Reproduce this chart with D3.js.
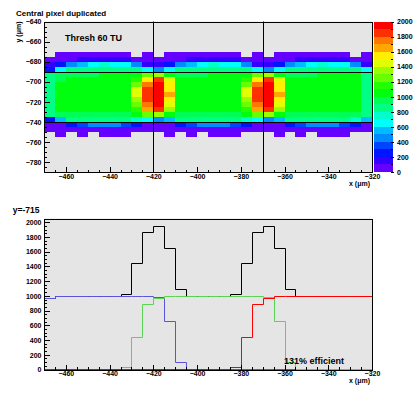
<!DOCTYPE html>
<html>
<head>
<meta charset="utf-8">
<script src="https://cdn.jsdelivr.net/npm/d3@7"></script>
<style>
  body { margin: 0; background: #fff; }
  text { font-family: "Liberation Sans", Arial, sans-serif; font-weight: bold; }
</style>
</head>
<body>
<svg id="chart" width="418" height="393"></svg>
<script>
// ---- data ----
// hit map, 5x5 um bins, x from -470 to -320, rows listed top (y=-670) to bottom
const mapRowTop = [-670, -675, -680, -685, -690, -695, -700, -705, -710, -715, -720, -725, -730, -735, -740, -745, -750];
const mapRows = [
  [0,50,50,50,50,50,50,50,0,50,  0,50,50,50,50,50,50,50,0,50,  0,50,50,50,50,50,50,50,0,50],
  [50,50,50,150,150,150,150,150,50,50,  50,50,50,150,150,150,150,150,50,50,  50,50,50,150,150,150,150,150,50,50],
  [150,250,450,550,650,750,650,650,450,150,  150,250,450,550,650,750,650,650,450,150,  150,250,450,550,650,750,650,650,450,150],
  [250,650,850,850,850,850,850,850,850,650,  450,650,850,850,850,850,850,850,850,650,  450,650,850,850,850,850,850,850,850,650],
  [850,950,950,950,950,1050,1050,1050,1050,1250,  1350,1050,950,950,950,1050,1050,1050,1050,1250,  1350,1050,950,950,950,1050,1050,1050,1050,850],
  [850,950,1050,1050,1050,1050,1050,1050,1150,1550,  1850,1450,1050,1050,1050,1050,1050,1050,1150,1550,  1850,1450,1050,1050,1050,1050,1050,1050,1050,850],
  [850,1050,1050,1050,1050,1050,1050,1050,1250,1750,  1950,1550,1050,1050,1050,1050,1050,1050,1250,1750,  1950,1550,1050,1050,1050,1050,1050,1050,1050,850],
  [850,1050,1050,1050,1050,1050,1050,1050,1450,1850,  1950,1550,1050,1050,1050,1050,1050,1050,1450,1850,  1950,1550,1050,1050,1050,1050,1050,1050,1050,850],
  [850,1050,1050,1050,1050,1050,1050,1050,1450,1850,  1950,1650,1050,1050,1050,1050,1050,1050,1450,1850,  1950,1650,1050,1050,1050,1050,1050,1050,1050,850],
  [850,1050,1050,1050,1050,1050,1050,1050,1350,1850,  1950,1550,1050,1050,1050,1050,1050,1050,1350,1850,  1950,1550,1050,1050,1050,1050,1050,1050,1050,850],
  [850,1050,1050,1050,1050,1050,1050,1050,1250,1750,  1950,1450,1050,1050,1050,1050,1050,1050,1250,1750,  1950,1450,1050,1050,1050,1050,1050,1050,1050,850],
  [850,1050,1050,1050,1050,1050,1050,1050,1150,1650,  1850,1350,1050,1050,1050,1050,1050,1050,1150,1650,  1850,1350,1050,1050,1050,1050,1050,1050,1050,850],
  [850,950,950,950,950,950,950,950,1050,1250,  1350,1050,950,950,950,950,950,950,1050,1250,  1350,1050,950,950,950,950,950,950,950,850],
  [250,550,850,850,850,850,850,850,750,650,  450,550,850,850,850,850,850,850,750,650,  450,550,850,850,850,850,850,850,750,550],
  [50,50,250,350,450,450,450,350,250,50,  50,50,250,350,450,450,450,350,250,50,  50,50,250,350,450,450,450,350,250,50],
  [50,50,50,50,50,50,50,50,50,50,  50,50,50,50,50,50,50,50,50,50,  50,50,50,50,50,50,50,50,50,50],
  [0,50,0,50,0,50,50,50,0,0,  0,50,0,50,0,50,50,50,0,0,  0,50,0,50,0,50,50,50,0,0]
];
const pixelEdgesX = [-420, -370];
const pixelEdgesY = [-690, -740];

// projection at y=-715, same 5 um bins
const sumCounts   = [955,988,988,988,988,988,988,1013,1432,1859, 1936,1635,1081,988,988,988,988,1013,1436,1859, 1936,1635,1081,988,988,988,988,988,988,988];
const blueCounts  = [955,988,988,988,988,988,988,988,988,988, 973,643,95,0,0,0,0,0,0,0, 0,0,0,0,0,0,0,0,0,0];
const greenCounts = [0,0,0,0,0,0,0,22,427,878, 959,990,990,990,990,990,990,990,990,990, 977,649,95,0,0,0,0,0,0,0];
const redCounts   = [0,0,0,0,0,0,0,0,0,0, 0,0,0,0,0,0,0,27,432,878, 959,990,990,990,990,990,990,990,990,990];

const xTicks = [-460, -440, -420, -400, -380, -360, -340, -320];
const yTicksMap = [-780, -760, -740, -720, -700, -680, -660, -640];
const yTicksProj = [0, 200, 400, 600, 800, 1000, 1200, 1400, 1600, 1800, 2000];
const paletteColors = ['#6300ff','#3300ff','#0014ff','#0044ff','#008bff','#00bbff','#00fffc','#00ffcc','#00ff85','#00ff55',
                       '#00ff0e','#22ff00','#69ff00','#99ff00','#e0ff00','#ffee00','#ffa700','#ff7700','#ff3000','#ff0000'];

// ---- layout ----
const svg = d3.select('#chart');
const frameFill = '#e5e5e5';
const binW = 5;

const x = d3.scaleLinear().domain([-470, -320]).range([44, 372]);
const yMap = d3.scaleLinear().domain([-790, -640]).range([172, 21.5]);
const yProj = d3.scaleLinear().domain([0, 2050]).range([369.5, 218.5]);
const zLevels = d3.range(100, 2000, 100);
const color = d3.scaleThreshold().domain(zLevels).range(paletteColors);

function frame(yScale) {
  const [y1, y0] = yScale.range();
  svg.append('rect')
    .attr('x', x.range()[0]).attr('y', y0)
    .attr('width', x.range()[1] - x.range()[0]).attr('height', y1 - y0)
    .attr('fill', frameFill);
}

function axes(yScale, yMajor, yMinorStep, labelY) {
  const [y1, y0] = yScale.range();
  const minorX = d3.range(-470, -319, 5).filter(v => v % 20 !== 0);
  const minorY = d3.range(yScale.domain()[0], yScale.domain()[1] + 0.1, yMinorStep).filter(v => !yMajor.includes(v));

  const gx = svg.append('g').attr('transform', `translate(0,${y1})`);
  gx.call(d3.axisBottom(x).tickValues(xTicks).tickSize(-5).tickPadding(2).tickFormat(d3.format('d')));
  gx.append('g').call(d3.axisBottom(x).tickValues(minorX).tickSize(-2.5).tickFormat(''));

  const gy = svg.append('g').attr('transform', `translate(${x.range()[0]},0)`);
  gy.call(d3.axisLeft(yScale).tickValues(yMajor).tickSize(-6).tickPadding(2.5).tickFormat(d3.format('d')));
  gy.append('g').call(d3.axisLeft(yScale).tickValues(minorY).tickSize(-3).tickFormat(''));

  svg.selectAll('.domain').remove();
  svg.selectAll('.tick line').attr('stroke', '#000').attr('shape-rendering', 'crispEdges');
  svg.selectAll('.tick text').attr('font-size', 7).attr('fill', '#000')
    .attr('font-family', '"Liberation Sans", Arial, sans-serif').attr('font-weight', 'bold');

  svg.append('text').attr('x', 370).attr('y', labelY).attr('text-anchor', 'end')
    .attr('font-size', 7).text('x (\u03bcm)');

  svg.append('rect')
    .attr('x', x.range()[0] + 0.5).attr('y', y0 + 0.5)
    .attr('width', x.range()[1] - x.range()[0]).attr('height', y1 - y0)
    .attr('fill', 'none').attr('stroke', '#000').attr('shape-rendering', 'crispEdges');
}

// ---- top: hit map ----
frame(yMap);

const cells = [];
mapRows.forEach((row, r) => row.forEach((v, c) => {
  if (v > 0) cells.push({ x0: -470 + c * binW, yTop: mapRowTop[r], v });
}));

svg.append('g').selectAll('rect')
  .data(cells)
  .enter().append('rect')
  .attr('x', d => x(d.x0))
  .attr('y', d => yMap(d.yTop))
  .attr('width', d => x(d.x0 + binW) - x(d.x0))
  .attr('height', d => yMap(d.yTop - binW) - yMap(d.yTop))
  .attr('fill', d => color(d.v))
  .attr('shape-rendering', 'crispEdges');

svg.selectAll('.vline')
  .data(pixelEdgesX)
  .enter().append('line')
  .attr('x1', d => Math.round(x(d)) + 0.5).attr('x2', d => Math.round(x(d)) + 0.5)
  .attr('y1', yMap.range()[1]).attr('y2', yMap.range()[0])
  .attr('stroke', '#000');

svg.selectAll('.hline')
  .data(pixelEdgesY)
  .enter().append('line')
  .attr('x1', x.range()[0]).attr('x2', x.range()[1])
  .attr('y1', d => Math.round(yMap(d)) + 0.5).attr('y2', d => Math.round(yMap(d)) + 0.5)
  .attr('stroke', '#000');

axes(yMap, yTicksMap, 5, 186);

// colour palette
const pal = svg.append('g');
pal.selectAll('rect')
  .data(zLevels.concat([2000]).map((t, i) => ({ lo: i * 100, hi: t })))
  .enter().append('rect')
  .attr('x', 374).attr('width', 19)
  .attr('y', d => yMap(-790 + d.hi * 150 / 2000))
  .attr('height', d => yMap(-790 + d.lo * 150 / 2000) - yMap(-790 + d.hi * 150 / 2000))
  .attr('fill', d => color(d.lo + 1))
  .attr('shape-rendering', 'crispEdges');

const zAxisScale = d3.scaleLinear().domain([0, 2000]).range(yMap.range());
const gz = svg.append('g').attr('transform', 'translate(393,0)');
gz.call(d3.axisRight(zAxisScale).tickValues(yTicksProj).tickSize(3).tickPadding(1).tickFormat(d3.format('d')));
gz.append('g').call(d3.axisRight(zAxisScale).tickValues(d3.range(100, 2000, 200)).tickSize(1.5).tickFormat(''));
gz.select('.domain').remove();
gz.selectAll('.tick line').attr('stroke', '#000').attr('transform', 'translate(-2,0)');
gz.selectAll('.tick text').attr('font-size', 7).attr('fill', '#000')
  .attr('font-family', '"Liberation Sans", Arial, sans-serif').attr('font-weight', 'bold');

svg.append('text').attr('x', 16).attr('y', 16).attr('font-size', 8).text('Central pixel duplicated');
svg.append('text').attr('x', 65).attr('y', 40.5).attr('font-size', 9).text('Thresh 60 TU');
svg.append('text').attr('transform', 'translate(20.5,21.5) rotate(-90)')
  .attr('text-anchor', 'end').attr('font-size', 7).text('y (\u03bcm)');

// ---- bottom: projection ----
frame(yProj);

// snap steps to pixel centres so 1px lines stay sharp
const step = d3.line()
  .x(d => Math.round(x(d[0])) + 0.5)
  .y(d => Math.round(yProj(d[1])) - 0.5)
  .curve(d3.curveStepAfter);

function histPoints(counts) {
  const pts = counts.map((v, i) => [-470 + i * binW, v]);
  pts.push([-320, counts[counts.length - 1]]);
  return pts;
}

const series = [
  { counts: sumCounts, stroke: '#000000' },
  { counts: blueCounts, stroke: '#5954d9' },
  { counts: greenCounts, stroke: '#59d454' },
  { counts: redCounts, stroke: '#ff0000' }
];

svg.append('g').selectAll('path')
  .data(series)
  .enter().append('path')
  .attr('d', d => step(histPoints(d.counts)))
  .attr('fill', 'none')
  .attr('stroke', d => d.stroke)
  .attr('stroke-width', 1);

axes(yProj, yTicksProj, 50, 382.5);

svg.append('text').attr('x', 12.7).attr('y', 213).attr('font-size', 8.5).text('y=-715');
svg.append('text').attr('x', 284).attr('y', 364).attr('font-size', 9).text('131% efficient');
</script>
</body>
</html>
